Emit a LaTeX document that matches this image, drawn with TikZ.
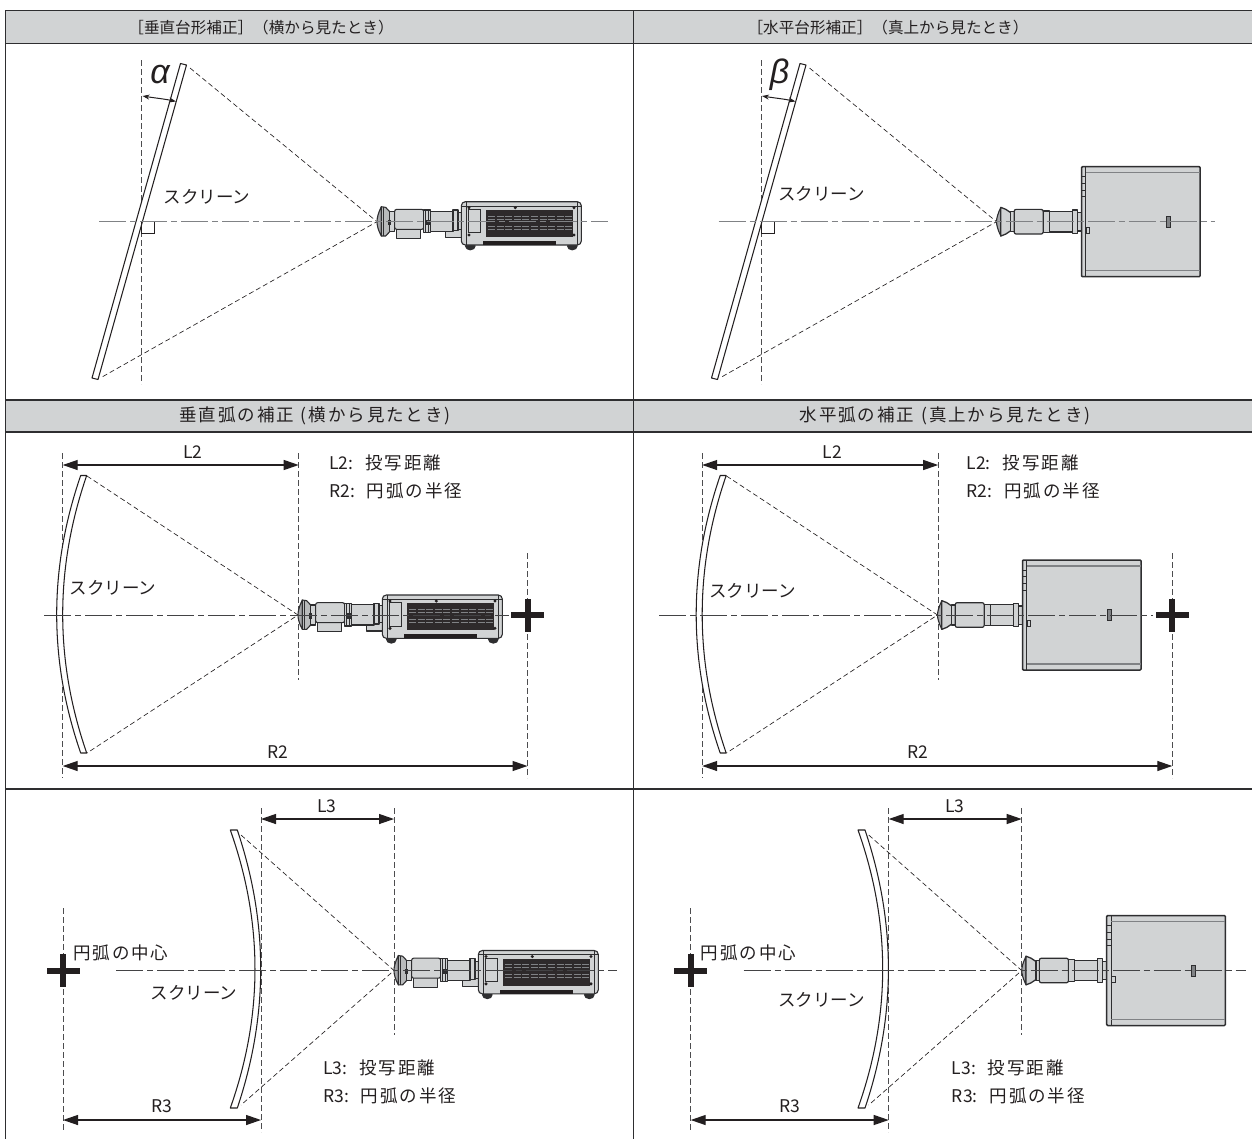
\documentclass[tikz,border=0pt]{standalone}
\usepackage{fontspec}
\setmainfont{Noto Sans CJK JP}
\newfontfamily\greekit{Liberation Sans}[ItalicFont={Liberation Sans Italic}]
\newcommand\wide[1]{{\addfontfeature{LetterSpace=11}#1}}
\newcommand\gapL{\hspace{12pt}}
\usetikzlibrary{arrows.meta}
\definecolor{hdr}{HTML}{D1D3D4}
\definecolor{ln}{HTML}{2E2E30}
\definecolor{txt}{HTML}{231F20}
\definecolor{midg}{HTML}{808285}
\tikzset{
 x=1pt,y=-1pt,
 tbl/.style={draw=ln,line width=1.2pt},
 hdrbox/.style={fill=hdr,draw=ln,line width=1.2pt},
 hdrtext/.style={text=txt,font=\fontsize{15.6}{18}\selectfont,inner sep=0},
 hdrtextb/.style={text=txt,font=\fontsize{17.5}{20}\selectfont,inner sep=0},
 lbl/.style={text=txt,font=\fontsize{17.5}{20}\selectfont,inner sep=0},
 lblL/.style={lbl,anchor=west},
 vdash/.style={draw=ln!85,line width=.85pt,dash pattern=on 6pt off 3pt},
 beam/.style={draw=txt,line width=.65pt,dash pattern=on 5pt off 3pt},
 axisthick/.style={draw=midg,line width=1.2pt,dash pattern=on 27pt off 4pt on 6pt off 4pt},
 axisthin/.style={draw=ln!90,line width=.75pt,dash pattern=on 27pt off 4pt on 6pt off 4pt},
 screenpath/.style={draw=txt,line width=1.05pt,fill=white,line join=round},
 dim/.style={draw=txt,line width=1.25pt,{Triangle[length=15pt,width=10pt]}-{Triangle[length=15pt,width=10pt]}},
 pr/.style={draw=ln,line width=1.1pt,fill=hdr,line join=round},
 sideprojector/.pic={
  \begin{scope}[x=.3333pt,y=-.3333pt,shift={(-52,-155)}]
   \draw[pr,fill=midg!70] (65,110) .. controls (55,130) and (52,145) .. (52,155) .. controls (52,165) and (55,180) .. (65,198) -- cycle;
   \draw[pr,fill=hdr!70!midg] (65,110) -- (78,112) -- (90,125) -- (90,185) -- (78,198) -- (65,198) -- cycle;
   \draw[ln,line width=1.2pt] (72,111) -- (72,198);
   \draw[pr] (90,125) rectangle (105,185);
   \draw[pr] (110,175) rectangle (182,205);
   \draw[pr,rounded corners=2pt] (105,118) rectangle (192,178);
   \draw[pr] (257,175) rectangle (305,203);
   \draw[pr] (192,120) rectangle (212,188);
   \draw[pr] (212,124) rectangle (280,185);
   \draw[pr] (280,120) rectangle (295,182);
   \draw[pr] (295,127) rectangle (307,178);
   \draw[ln,line width=.8pt] (197,120) -- (197,188) (205,120) -- (205,188);
   \fill[ln] (85,150) rectangle (95,166);
   \fill[ln] (198,150) rectangle (212,166);
   \fill[ln] (332,228) ellipse (16 and 13);
   \fill[ln] (638,228) ellipse (16 and 13);
   \draw[pr,rounded corners=4pt] (305,95) rectangle (665,225);
   \draw[ln,line width=.9pt] (320,95) -- (320,225) (652,95) -- (652,225) (305,108) -- (665,108);
   \draw[ln,line width=.7pt,fill=hdr] (325,118) rectangle (362,188);
   \fill[txt!95] (380,120) rectangle (640,200);
   \foreach \yy in {137,146,167,176}
     \draw[midg,line width=.35pt,dash pattern=on 7pt off 1.6pt] (385,\yy) -- (636,\yy);
   \fill[txt] (370,213) rectangle (590,225);
   \foreach \xx/\yy in {328/113,467/113,643/113,328/195,643/195}
     \fill[txt] (\xx,\yy) circle (5);
  \end{scope}
 },
 topprojector/.pic={
  \begin{scope}[x=.3333pt,y=-.3333pt,shift={(-22,-215)}]
   \draw[pr,fill=midg!70] (35,172) .. controls (26,190) and (22,205) .. (22,215) .. controls (22,225) and (26,240) .. (35,258) -- cycle;
   \draw[pr,line width=1.3pt] (35,172) -- (50,178) -- (65,188) -- (65,242) -- (50,252) -- (35,258) -- cycle;
   \draw[pr] (65,185) rectangle (75,245);
   \draw[pr,line width=1.2pt,rounded corners=2pt] (75,178) rectangle (162,252);
   \draw[pr] (162,183) rectangle (180,247);
   \draw[pr] (180,184) rectangle (250,246);
   \draw[pr] (250,180) rectangle (265,250);
   \draw[pr] (265,188) rectangle (277,243);
   \draw[pr,line width=1.5pt,rounded corners=1pt] (277,50) rectangle (633,380);
   \draw[ln,line width=1pt] (290,50) -- (290,380);
   \draw[midg,line width=1.3pt] (290,68) -- (633,68) (290,362) -- (633,362);
   \draw[ln,line width=.7pt] (277,80) rectangle (290,100) (277,100) rectangle (290,120) (277,120) rectangle (290,140);
   \draw[ln,line width=.7pt] (292,232) rectangle (302,250);
   \draw[ln,line width=.6pt,fill=midg] (532,198) rectangle (542,232);
  \end{scope}
 },
 plusmark/.pic={
  \fill[txt] (-16.5,-3) rectangle (16.5,3);
  \fill[txt] (-3,-16.5) rectangle (3,16.5);
 }
}
% tilted screen and rays; origin as panel 1
\newcommand\tiltpanel[3]{%
 \draw[vdash] (141.7,60) -- (141.7,384);
 \draw[screenpath] (180.5,63.5) -- (186.5,65) -- (98,379.5) -- (92,378) -- cycle;
 \draw[beam] (190,68) -- (377,221.7) -- (102,377);
 \draw[draw=txt,line width=.6pt] (141.7,221.7) rectangle (154.5,233.5);
 \draw[txt,line width=1pt,{Stealth[length=7pt,width=5pt]}-{Stealth[length=7pt,width=5pt]}] (142.5,96) .. controls (155,98) and (165,99) .. (176,101.5);
 \pic at (377,221.7) {#2};
 \draw[axisthick] (99,221.7) -- (#3,221.7);
 \node[text=txt,inner sep=0,font=\fontsize{34}{34}\greekit\itshape] (sym) at (160,75) {#1};
}
\newcommand\screenleft{%
 \draw[screenpath] (80.7,475.5) .. controls (48.7,568.3) and (48.7,660.7) .. (80.7,753)
   -- (86.7,753) .. controls (54.7,660.7) and (54.7,568.3) .. (86.7,475.5) -- cycle;
}
\newcommand\screenright{%
 \draw[screenpath] (230.3,830) .. controls (263.2,922.7) and (263.2,1015.3) .. (230.3,1108)
   -- (237.3,1108) .. controls (268.5,1015.3) and (268.5,922.7) .. (237.3,830) -- cycle;
}
% #1 projector, #2 axis start, #3 axis end, #4 plus x
\newcommand\lowerA[4]{%
 \draw[vdash] (62.7,453) -- (62.7,778);
 \draw[vdash] (298.7,453) -- (298.7,680);
 \draw[vdash] (#4,553) -- (#4,778);
 \screenleft
 \draw[beam] (87,476) -- (298,615) -- (87,753);
 \pic at (298,615) {#1};
 \draw[axisthin] (#2,615) -- (#3,615);
 \pic at (#4,615) {plusmark};
 \coordinate (a) at (62.7,465); \coordinate (b) at (298.7,465);
 \coordinate (c) at (62.7,766); \coordinate (d) at (#4,766);
 \draw[dim] (a) -- (b);
 \draw[dim] (c) -- (d);
 \node[lbl] (l) at (193,452) {L2};
 \node[lbl] (r) at (278,752) {R2};
}
\newcommand\lowerB[2]{%
 \draw[vdash] (63,908) -- (63,1132);
 \draw[vdash] (261,808) -- (261,1132);
 \draw[vdash] (394,808) -- (394,1035);
 \screenright
 \draw[beam] (241,835) -- (394,970.5) -- (241,1105);
 \pic at (394,970.5) {#1};
 \draw[axisthin] (116,970.5) -- (#2,970.5);
 \pic at (63,970.5) {plusmark};
 \coordinate (a) at (261,819); \coordinate (b) at (394,819);
 \coordinate (c) at (63,1120); \coordinate (d) at (261,1120);
 \draw[dim] (a) -- (b);
 \draw[dim] (c) -- (d);
 \node[lbl] (l) at (327,806) {L3};
 \node[lbl] (r) at (162,1106) {R3};
}
\begin{document}
\begin{tikzpicture}
\useasboundingbox (0,0) rectangle (1252,1138);
\fill[white] (0,0) rectangle (1252,1138);
% table
\draw[hdrbox] (5.5,10.5) rectangle (1254,43.5);
\draw[hdrbox] (5.5,400) rectangle (1254,432);
\draw[tbl] (5.5,43.5) -- (5.5,1140);
\draw[tbl] (633.5,10.5) -- (633.5,1140);
\draw[tbl] (5.5,789) -- (1254,789);
\node[hdrtext] (h1) at (261,27.5) {［垂直台形補正］（横から見たとき）};
\node[hdrtext] (h2) at (888,27.5) {［水平台形補正］（真上から見たとき）};
\node[hdrtextb] (h3) at (315,416) {\wide{垂直弧の補正}\hspace{7pt}\wide{(横から見たとき)}};
\node[hdrtextb] (h4) at (945,416) {\wide{水平弧の補正}\hspace{7pt}\wide{(真上から見たとき)}};
% panel 1
\tiltpanel{α}{sideprojector}{608}
\node[lbl] (s1) at (207,197) {スクリーン};
% panel 2
\begin{scope}[xshift=619.5pt]
\tiltpanel{β}{topprojector}{595}
\node[lbl] (s2) at (202,194) {スクリーン};
\end{scope}
% panel 3
\lowerA{sideprojector}{44}{509}{527.5}
\node[lbl] (s3) at (113,588) {スクリーン};
\node[lblL] (t3a) at (329,463) {L2:\gapL\wide{投写距離}};
\node[lblL] (t3b) at (329,491) {R2:\gapL\wide{円弧の半径}};
% panel 4
\begin{scope}[xshift=639.5pt]
\lowerA{topprojector}{19.5}{513.5}{532.8}
\node[lbl] (s4) at (113,591) {スクリーン};
\node[lblL] (t4a) at (327,463) {L2:\gapL\wide{投写距離}};
\node[lblL] (t4b) at (327,491) {R2:\gapL\wide{円弧の半径}};
\end{scope}
% panel 5
\lowerB{sideprojector}{617}
\node[lbl] (s5) at (194,993) {スクリーン};
\node[lblL] (c5) at (73,953) {\wide{円弧の中心}};
\node[lblL] (t5a) at (323,1068) {L3:\gapL\wide{投写距離}};
\node[lblL] (t5b) at (323,1096) {R3:\gapL\wide{円弧の半径}};
% panel 6
\begin{scope}[xshift=627.7pt]
\lowerB{topprojector}{618}
\node[lbl] (s6) at (194,1000) {スクリーン};
\node[lblL] (c6) at (73,953) {\wide{円弧の中心}};
\node[lblL] (t6a) at (324,1068) {L3:\gapL\wide{投写距離}};
\node[lblL] (t6b) at (324,1096) {R3:\gapL\wide{円弧の半径}};
\end{scope}
\end{tikzpicture}
\end{document}
